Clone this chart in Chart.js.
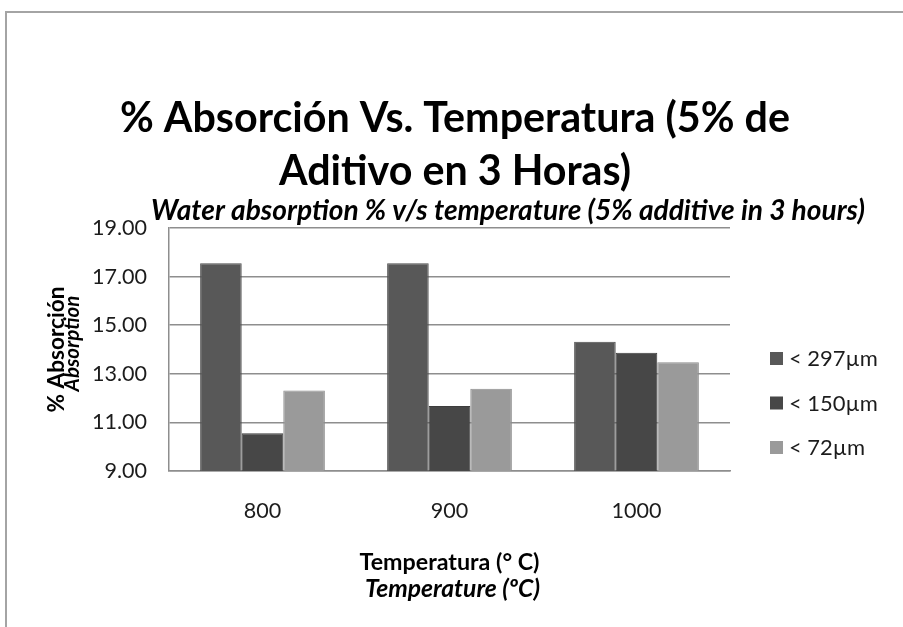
<!DOCTYPE html>
<html lang="es">
<head>
<meta charset="utf-8">
<title>% Absorción Vs. Temperatura</title>
<script src="https://cdn.jsdelivr.net/npm/chart.js@4.4.1/dist/chart.umd.min.js"></script>
<style>
  html, body { margin: 0; padding: 0; background: #ffffff; overflow: hidden; }
  #wrap  { position: relative; width: 903px; height: 627px; }
  #frame { position: absolute; left: 5px; top: 11px; width: 920px; height: 640px;
           border-top: 2px solid #a4a4a4; border-left: 2px solid #a4a4a4; }
  #chart { position: absolute; left: 0; top: 0; }
</style>
</head>
<body>
<div id="wrap">
  <div id="frame"></div>
  <canvas id="chart" width="903" height="627"></canvas>
</div>
<script>
// ── Data ──
const categories  = ["800", "900", "1000"];
const seriesNames = ["< 297µm", "< 150µm", "< 72µm"];
const absorb297   = [17.55, 17.55, 14.32];
const absorb150   = [10.55, 11.68, 13.87];
const absorb72    = [12.31, 12.38, 13.48];
const yTickValues = [9, 11, 13, 15, 17, 19];

// ── Texts ──
const TITLE_ES   = ["% Absorción Vs. Temperatura (5% de", "Aditivo en 3 Horas)"];
const TITLE_EN   = "Water absorption % v/s temperature (5% additive in 3 hours)";
const Y_TITLE_ES = "% Absorción";
const Y_TITLE_EN = "Absorption";
const X_TITLE_ES = "Temperatura (° C)";
const X_TITLE_EN = "Temperature (ºC)";

// ── Styles ──
const FONT          = "Lato, 'Open Sans', sans-serif";
const seriesColors  = ["#585858", "#474747", "#9a9a9a"];
const seriesBorders = ["#4d4d4d", "#3d3d3d", "#8d8d8d"];
const axisGray      = "#8e8e8e";
const textColor     = "#1c1c1c";

// pick a font size so a string spans a given width
const measureCtx = document.createElement("canvas").getContext("2d");
function fitSize(text, style, width) {
  measureCtx.font = `${style} 100px ${FONT}`;
  return 100 * width / measureCtx.measureText(text).width;
}

const titleSize  = fitSize(TITLE_ES[0], "bold", 670);
const enSubSize  = fitSize(TITLE_EN, "italic bold", 714);
const yTitleSize = fitSize(Y_TITLE_ES, "bold", 126);
const yEnSize    = fitSize(Y_TITLE_EN, "italic bold", 96);
const xTitleSize = fitSize(X_TITLE_ES, "bold", 180);
const xEnSize    = fitSize(X_TITLE_EN, "italic bold", 175);
const tickSize   = fitSize("1000", "normal", 50);
const legendSize = fitSize(seriesNames[0], "normal", 89);

// ── English labels + legend, drawn on top of the chart ──
const extraText = {
  id: "extraText",
  afterDraw(chart) {
    const { ctx, chartArea } = chart;
    const midX = (chartArea.left + chartArea.right) / 2;
    const midY = (chartArea.top + chartArea.bottom) / 2;
    ctx.save();
    ctx.fillStyle = "#000";
    ctx.textAlign = "center";
    ctx.textBaseline = "alphabetic";

    ctx.font = `italic bold ${enSubSize}px ${FONT}`;
    ctx.fillText(TITLE_EN, chartArea.left + 339, chartArea.top - 8);

    ctx.font = `italic bold ${xEnSize}px ${FONT}`;
    ctx.fillText(X_TITLE_EN, midX + 3, chartArea.bottom + 126);

    ctx.save();
    ctx.translate(chart.scales.y.left + 72, midY - 6);
    ctx.rotate(-Math.PI / 2);
    ctx.font = `italic bold ${yEnSize}px ${FONT}`;
    ctx.fillText(Y_TITLE_EN, 0, 0);
    ctx.restore();

    // legend
    ctx.textAlign = "left";
    ctx.textBaseline = "middle";
    ctx.font = `${legendSize}px ${FONT}`;
    chart.data.datasets.forEach((ds, i) => {
      const x = chartArea.right + 40;
      const y = chartArea.top + 130 + i * 44.5;
      ctx.fillStyle = ds.backgroundColor;
      ctx.fillRect(x, y - 6, 13, 13);
      ctx.fillStyle = textColor;
      ctx.fillText(ds.label, x + 19, y + 1);
    });
    ctx.restore();
  }
};

const seriesValues = [absorb297, absorb150, absorb72];

new Chart(document.getElementById("chart"), {
  type: "bar",
  data: {
    labels: categories,
    datasets: seriesValues.map((vals, i) => ({
      label: seriesNames[i],
      data: vals,
      backgroundColor: seriesColors[i],
      borderColor: seriesBorders[i],
      borderWidth: 1,
      categoryPercentage: 0.667,
      barPercentage: 1.0,
    })),
  },
  options: {
    responsive: false,
    animation: false,
    layout: { padding: { top: 92, left: 7, right: 0, bottom: 15 } },
    plugins: {
      legend: { display: false },
      tooltip: { enabled: false },
      title: {
        display: true,
        text: TITLE_ES,
        color: "#000",
        font: { family: FONT, size: titleSize, weight: "bold", lineHeight: 53 / titleSize },
        padding: { top: 0, bottom: 30 },
      },
    },
    scales: {
      x: {
        grid: { display: false },
        border: { color: axisGray, width: 1.5 },
        ticks: { color: textColor, font: { family: FONT, size: tickSize }, padding: 19 },
        title: {
          display: true,
          text: X_TITLE_ES,
          color: "#000",
          font: { family: FONT, size: xTitleSize, weight: "bold", lineHeight: 22 / xTitleSize },
          padding: { top: 10, bottom: 38 },
        },
        afterFit: s => { s.height = 141; },
      },
      y: {
        min: 9,
        max: 19,
        afterBuildTicks: s => { s.ticks = yTickValues.map(v => ({ value: v })); },
        grid: { color: axisGray, lineWidth: 1.5, drawTicks: false },
        border: { color: axisGray, width: 1.5 },
        ticks: {
          color: textColor,
          font: { family: FONT, size: tickSize },
          padding: 22,
          callback: v => v.toFixed(2),
        },
        title: {
          display: true,
          text: Y_TITLE_ES,
          color: "#000",
          font: { family: FONT, size: yTitleSize, weight: "bold", lineHeight: 22 / yTitleSize },
          padding: { top: 39, bottom: 20 },
        },
        afterFit: s => { s.width = 162; },
      },
      // empty right-hand box that keeps room for the legend
      legendRoom: {
        position: "right",
        display: true,
        grid: { display: false },
        border: { display: false },
        ticks: { display: false },
        afterFit: s => { s.width = 173; },
      },
    },
  },
  plugins: [extraText],
});
</script>
</body>
</html>
